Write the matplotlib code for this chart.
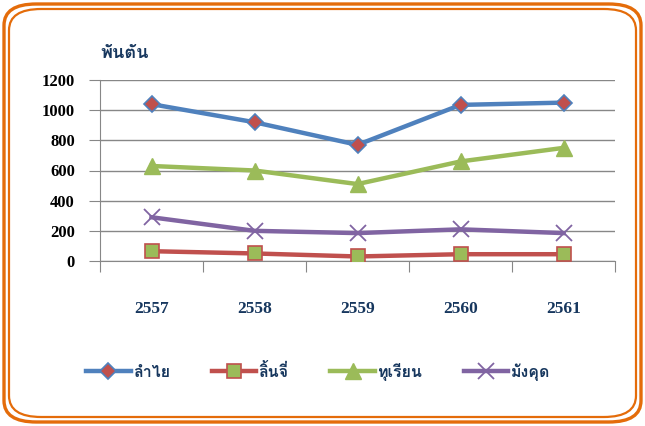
import matplotlib
matplotlib.use("Agg")
import matplotlib.pyplot as plt
from matplotlib import font_manager
from matplotlib.patches import FancyBboxPatch

years = ["2557", "2558", "2559", "2560", "2561"]
longan = [1040, 920, 770, 1035, 1050]
lychee = [65, 50, 30, 45, 45]
durian = [630, 600, 510, 660, 750]
mangosteen = [290, 200, 185, 210, 185]
labels = ["ลำไย", "ลิ้นจี่", "ทุเรียน", "มังคุด"]
unit = "พันตัน"
yticks = [0, 200, 400, 600, 800, 1000, 1200]

# find a font with Thai glyphs
thai_family = None
try:
    from fontTools.ttLib import TTFont
    for f in font_manager.fontManager.ttflist:
        try:
            tt = TTFont(f.fname, fontNumber=0, lazy=True)
            cmap = tt.getBestCmap()
            if cmap and 0x0E1E in cmap and 0x0E33 in cmap:
                thai_family = f.name
                if f.weight in ("bold", 700) or "Bold" in f.fname:
                    break
        except Exception:
            pass
except Exception:
    pass
thai_fams = ([thai_family] if thai_family else []) + ["DejaVu Sans"]

navy = "#17375E"
fig = plt.figure(figsize=(6.45, 4.26), dpi=100)
W, H = 645, 426

# double orange rounded border
for inset, lw in [(4, 2.4), (9, 1.6)]:
    fig.patches.append(FancyBboxPatch((inset / W, inset / H), 1 - 2 * inset / W, 1 - 2 * inset / H,
                                      boxstyle="round,pad=0,rounding_size=0.05",
                                      transform=fig.transFigure, fill=False,
                                      edgecolor="#E46C0A", linewidth=lw))

ax = fig.add_axes([100 / W, 1 - 261 / H, 515 / W, 181 / H])
x = list(range(len(years)))
ax.plot(x, longan, color="#4F81BD", lw=3.2, marker="D", ms=8, mfc="#C0504D", mec="#4F81BD", mew=1.2, label=labels[0], zorder=5)
ax.plot(x, lychee, color="#C0504D", lw=3.2, marker="s", ms=10, mfc="#9BBB59", mec="#C0504D", mew=1.2, label=labels[1], zorder=5)
ax.plot(x, durian, color="#9BBB59", lw=3.2, marker="^", ms=11, mfc="#9BBB59", mec="#9BBB59", label=labels[2], zorder=5)
ax.plot(x, mangosteen, color="#8064A2", lw=3.2, marker="x", ms=11, mew=1.3, mec="#8064A2", label=labels[3], zorder=5)

ax.set_xlim(-0.5, len(years) - 0.5)
ax.set_ylim(0, 1200)
ax.set_yticks(yticks)
ax.set_yticklabels([str(v) for v in yticks], fontfamily="Liberation Serif", fontweight="bold", fontsize=12, color="black")
ax.yaxis.grid(True, color="#878787", lw=1)
ax.set_axisbelow(True)
ax.tick_params(axis="y", length=8, color="#878787", pad=10)
ax.set_xticks([i - 0.5 for i in range(len(years) + 1)], minor=False)
ax.set_xticklabels([])
ax.set_xticks(x, minor=True)
ax.set_xticklabels(years, minor=True, fontfamily="Liberation Serif", fontweight="bold", fontsize=12.5, color=navy)
ax.tick_params(axis="x", which="major", length=8, color="#878787")
ax.tick_params(axis="x", which="minor", length=0, pad=29)
for s in ["top", "right"]:
    ax.spines[s].set_visible(False)
ax.spines["left"].set_color("#878787")
ax.spines["bottom"].set_color("#878787")

fig.text(100 / W, 1 - 53 / H, unit, fontfamily=thai_fams, fontweight="bold", fontsize=13, color=navy, ha="left", va="center")

leg = fig.legend(loc="center", bbox_to_anchor=(318 / W, 1 - 372 / H), ncol=4, frameon=False,
                 prop={"family": thai_fams, "weight": "bold", "size": 11.5}, handlelength=2.8,
                 columnspacing=2.6, handletextpad=0.15)
for t in leg.get_texts():
    t.set_color(navy)

fig.savefig("out.png", dpi=100)
